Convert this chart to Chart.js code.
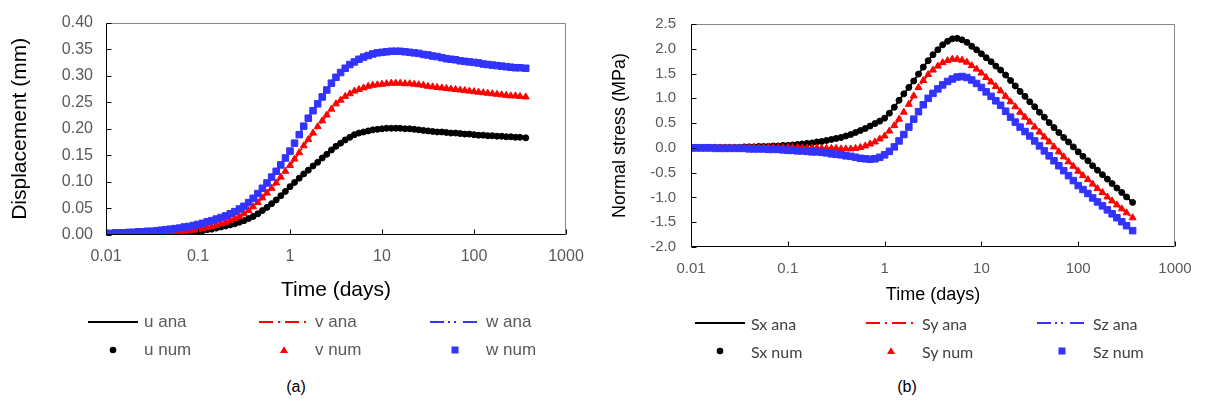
<!DOCTYPE html>
<html>
<head>
<meta charset="utf-8">
<script src="https://cdn.jsdelivr.net/npm/chart.js@4.4.1/dist/chart.umd.min.js"></script>
<style>
  html, body { margin: 0; padding: 0; background: #fff; }
  body { width: 1207px; height: 403px; position: relative; overflow: hidden; font-family: "Liberation Sans", Arial, sans-serif; }
  canvas { position: absolute; top: 0; }
  #dispChart { left: 0; }
  #stressChart { left: 600px; }
  .legend { position: absolute; display: grid; grid-template-columns: repeat(3, 171px); grid-auto-rows: 28px; }
  .legend .item { display: flex; align-items: center; white-space: nowrap; }
  .legend svg { width: 50px; height: 12px; margin-right: 6px; flex: none; }
  #dispLegend { left: 88px; top: 308px; font-size: 17px; color: #595959; }
  #stressLegend { left: 695px; top: 309px; font-size: 16px; color: #404040; font-family: Lato, "Liberation Sans", sans-serif; }
  .caption { position: absolute; top: 378px; font-size: 16px; color: #000; transform: translateX(-50%); }
</style>
</head>
<body>
<canvas id="dispChart" width="600" height="310"></canvas>
<canvas id="stressChart" width="607" height="310"></canvas>
<div id="dispLegend" class="legend"></div>
<div id="stressLegend" class="legend"></div>
<div class="caption" style="left:296px">(a)</div>
<div class="caption" style="left:907px">(b)</div>

<script>
// ---------------- Data ----------------
const times = [
  0.01, 0.0112, 0.0126, 0.0141, 0.0158, 0.0178, 0.02, 0.0224, 0.0251, 0.0282,
  0.0316, 0.0355, 0.0398, 0.0447, 0.0501, 0.0562, 0.0631, 0.0708, 0.0794, 0.0891,
  0.1, 0.112, 0.126, 0.141, 0.158, 0.178, 0.2, 0.224, 0.251, 0.282,
  0.316, 0.355, 0.398, 0.447, 0.501, 0.562, 0.631, 0.708, 0.794, 0.891,
  1, 1.12, 1.26, 1.41, 1.58, 1.78, 2, 2.24, 2.51, 2.82,
  3.16, 3.55, 3.98, 4.47, 5.01, 5.62, 6.31, 7.08, 7.94, 8.91,
  10, 11.2, 12.6, 14.1, 15.8, 17.8, 20, 22.4, 25.1, 28.2,
  31.6, 35.5, 39.8, 44.7, 50.1, 56.2, 63.1, 70.8, 79.4, 89.1,
  100, 112, 126, 141, 158, 178, 200, 224, 251, 282,
  316, 365
];

// displacements (mm)
const uDisp = [
  0.000, 0.000, 0.001, 0.001, 0.001, 0.001, 0.001, 0.001, 0.002, 0.002,
  0.002, 0.002, 0.002, 0.003, 0.003, 0.004, 0.004, 0.005, 0.005, 0.006,
  0.007, 0.008, 0.010, 0.011, 0.013, 0.015, 0.017, 0.019, 0.021, 0.024,
  0.027, 0.031, 0.035, 0.040, 0.046, 0.052, 0.059, 0.066, 0.074, 0.082,
  0.091, 0.099, 0.107, 0.115, 0.122, 0.130, 0.137, 0.145, 0.152, 0.160,
  0.167, 0.173, 0.179, 0.184, 0.189, 0.192, 0.194, 0.196, 0.198, 0.199,
  0.200, 0.201, 0.201, 0.201, 0.201, 0.200, 0.200, 0.199, 0.198, 0.197,
  0.196, 0.195, 0.194, 0.194, 0.193, 0.192, 0.192, 0.191, 0.190, 0.190,
  0.189, 0.188, 0.188, 0.187, 0.187, 0.186, 0.186, 0.185, 0.185, 0.184,
  0.184, 0.183
];
const vDisp = [
  0.001, 0.001, 0.001, 0.002, 0.002, 0.002, 0.002, 0.002, 0.003, 0.003,
  0.003, 0.003, 0.004, 0.004, 0.005, 0.005, 0.006, 0.007, 0.008, 0.009,
  0.010, 0.012, 0.014, 0.016, 0.018, 0.021, 0.024, 0.027, 0.031, 0.035,
  0.040, 0.046, 0.053, 0.061, 0.070, 0.079, 0.088, 0.098, 0.109, 0.120,
  0.131, 0.143, 0.155, 0.168, 0.180, 0.192, 0.204, 0.215, 0.226, 0.237,
  0.247, 0.254, 0.261, 0.266, 0.271, 0.274, 0.277, 0.280, 0.282, 0.283,
  0.284, 0.285, 0.286, 0.286, 0.286, 0.285, 0.285, 0.284, 0.283, 0.282,
  0.280, 0.279, 0.278, 0.277, 0.276, 0.275, 0.274, 0.273, 0.272, 0.271,
  0.270, 0.269, 0.268, 0.267, 0.266, 0.265, 0.264, 0.263, 0.262, 0.262,
  0.261, 0.260
];
const wDisp = [
  0.003, 0.003, 0.004, 0.004, 0.004, 0.005, 0.005, 0.006, 0.006, 0.007,
  0.007, 0.008, 0.009, 0.010, 0.011, 0.012, 0.013, 0.015, 0.016, 0.018,
  0.020, 0.022, 0.025, 0.027, 0.030, 0.033, 0.036, 0.040, 0.044, 0.049,
  0.054, 0.061, 0.069, 0.078, 0.088, 0.098, 0.109, 0.120, 0.132, 0.145,
  0.158, 0.173, 0.189, 0.205, 0.220, 0.234, 0.247, 0.260, 0.273, 0.286,
  0.297, 0.306, 0.314, 0.321, 0.326, 0.331, 0.335, 0.338, 0.341, 0.343,
  0.344, 0.345, 0.346, 0.346, 0.346, 0.345, 0.344, 0.343, 0.342, 0.340,
  0.339, 0.337, 0.336, 0.334, 0.332, 0.331, 0.330, 0.328, 0.327, 0.326,
  0.325, 0.324, 0.322, 0.321, 0.320, 0.319, 0.318, 0.317, 0.316, 0.315,
  0.315, 0.314
];

// normal stresses (MPa)
const sxStress = [
  0.00, 0.00, 0.00, 0.00, 0.00, 0.01, 0.01, 0.01, 0.01, 0.01,
  0.01, 0.02, 0.02, 0.02, 0.03, 0.03, 0.03, 0.04, 0.04, 0.05,
  0.05, 0.06, 0.07, 0.08, 0.09, 0.10, 0.12, 0.13, 0.15, 0.17,
  0.19, 0.21, 0.24, 0.27, 0.31, 0.35, 0.39, 0.44, 0.49, 0.54,
  0.60, 0.70, 0.82, 0.96, 1.09, 1.22, 1.35, 1.49, 1.63, 1.76,
  1.88, 1.98, 2.08, 2.15, 2.20, 2.21, 2.18, 2.13, 2.05, 1.98,
  1.90, 1.82, 1.74, 1.65, 1.57, 1.47, 1.36, 1.25, 1.14, 1.04,
  0.93, 0.83, 0.72, 0.62, 0.51, 0.41, 0.31, 0.21, 0.12, 0.02,
  -0.08, -0.17, -0.26, -0.36, -0.45, -0.54, -0.63, -0.72, -0.81, -0.90,
  -0.99, -1.10
];
const syStress = [
  0.00, 0.00, 0.00, 0.00, 0.00, 0.00, 0.00, 0.00, 0.00, 0.00,
  0.00, 0.00, 0.01, 0.01, 0.01, 0.01, 0.01, 0.01, 0.01, 0.01,
  0.01, 0.01, 0.01, 0.00, 0.00, 0.00, 0.00, -0.01, -0.01, -0.01,
  -0.01, -0.02, -0.02, -0.02, -0.01, 0.01, 0.04, 0.08, 0.12, 0.18,
  0.24, 0.34, 0.45, 0.58, 0.72, 0.88, 1.05, 1.22, 1.36, 1.48,
  1.57, 1.65, 1.72, 1.76, 1.79, 1.79, 1.77, 1.73, 1.66, 1.59,
  1.51, 1.42, 1.33, 1.24, 1.15, 1.04, 0.93, 0.83, 0.72, 0.62,
  0.52, 0.42, 0.32, 0.22, 0.12, 0.02, -0.08, -0.18, -0.28, -0.37,
  -0.47, -0.56, -0.64, -0.73, -0.82, -0.90, -0.99, -1.07, -1.15, -1.23,
  -1.31, -1.41
];
const szStress = [
  0.00, 0.00, 0.00, 0.00, 0.00, -0.01, -0.01, -0.01, -0.01, -0.01,
  -0.01, -0.01, -0.02, -0.02, -0.02, -0.02, -0.03, -0.03, -0.03, -0.04,
  -0.05, -0.05, -0.06, -0.06, -0.07, -0.08, -0.08, -0.09, -0.10, -0.12,
  -0.13, -0.14, -0.16, -0.17, -0.19, -0.21, -0.22, -0.23, -0.22, -0.19,
  -0.14, -0.07, 0.02, 0.14, 0.27, 0.42, 0.58, 0.73, 0.87, 1.00,
  1.10, 1.19, 1.27, 1.34, 1.39, 1.43, 1.44, 1.42, 1.37, 1.30,
  1.22, 1.13, 1.04, 0.95, 0.86, 0.74, 0.62, 0.52, 0.42, 0.33,
  0.24, 0.14, 0.04, -0.06, -0.16, -0.26, -0.36, -0.46, -0.56, -0.66,
  -0.76, -0.84, -0.92, -1.01, -1.09, -1.17, -1.25, -1.33, -1.41, -1.49,
  -1.57, -1.67
];

// axis ticks
const xTickValues = [0.01, 0.1, 1, 10, 100, 1000];
const xTickLabels = ["0.01", "0.1", "1", "10", "100", "1000"];
const dispTickValues = [0, 0.05, 0.1, 0.15, 0.2, 0.25, 0.3, 0.35, 0.4];
const dispTickLabels = ["0.00", "0.05", "0.10", "0.15", "0.20", "0.25", "0.30", "0.35", "0.40"];
const stressTickValues = [-2, -1.5, -1, -0.5, 0, 0.5, 1, 1.5, 2, 2.5];
const stressTickLabels = ["-2.0", "-1.5", "-1.0", "-0.5", "0.0", "0.5", "1.0", "1.5", "2.0", "2.5"];

// ---------------- Styles ----------------
const BLACK = "#000000";
const RED = "#ff0000";
const BLUE = "#3333ff";
const DASH_DOT = [14, 5, 2, 5];
const DASH_DOT_DOT = [14, 4, 2, 4, 2, 7];
const FONT = "'Liberation Sans', Arial, sans-serif";

// ---------------- Helpers ----------------
function toPoints(values) {
  return times.map((t, i) => ({ x: t, y: values[i] }));
}

function lineSet(label, values, color, dash) {
  return {
    label, data: toPoints(values), showLine: true,
    borderColor: color, backgroundColor: color, borderWidth: 2, borderDash: dash,
    pointRadius: 0, fill: false, order: 10,
    legendKind: "line"
  };
}

function markerSet(label, values, color, style, radius, order) {
  return {
    label, data: toPoints(values), showLine: false,
    pointStyle: style, pointRadius: radius,
    pointBackgroundColor: color, pointBorderColor: color, pointBorderWidth: 1,
    borderColor: color, backgroundColor: color, order,
    legendKind: style
  };
}

// axes: black left/bottom, grey top/right, short ticks pointing inwards
const framePlugin = {
  id: "frame",
  afterDraw(chart) {
    const { ctx, chartArea: a, scales: { x, y } } = chart;
    const L = Math.round(a.left) + 0.5, R = Math.round(a.right) - 0.5;
    const T = Math.round(a.top) + 0.5, B = Math.round(a.bottom) - 0.5;
    ctx.save();
    ctx.lineWidth = 1;
    ctx.strokeStyle = "#868686";
    ctx.beginPath();
    ctx.moveTo(L, T); ctx.lineTo(R, T); ctx.lineTo(R, B);
    ctx.stroke();
    ctx.strokeStyle = "#000";
    ctx.beginPath();
    ctx.moveTo(L, T); ctx.lineTo(L, B); ctx.lineTo(R, B);
    x.ticks.forEach(t => {
      const px = Math.round(x.getPixelForValue(t.value)) + 0.5;
      ctx.moveTo(px, B); ctx.lineTo(px, B - 5);
    });
    y.ticks.forEach(t => {
      const py = Math.round(y.getPixelForValue(t.value)) + 0.5;
      ctx.moveTo(L, py); ctx.lineTo(L + 5, py);
    });
    ctx.stroke();
    ctx.restore();
  }
};

function makeOptions(cfg) {
  return {
    responsive: false,
    animation: false,
    devicePixelRatio: 1,
    layout: { padding: { left: 0, top: cfg.top, right: cfg.right, bottom: 0 } },
    plugins: { legend: { display: false }, tooltip: { enabled: false } },
    scales: {
      x: {
        type: "logarithmic", min: 0.01, max: 1000,
        afterBuildTicks: s => { s.ticks = xTickValues.map(v => ({ value: v })); },
        afterFit: s => { s.height = cfg.xHeight; },
        grid: { display: false, drawTicks: false },
        border: { display: false },
        ticks: {
          autoSkip: false, maxRotation: 0, padding: cfg.xPad, color: "#595959",
          font: { family: FONT, size: cfg.tickSize },
          callback: (v, i) => xTickLabels[i]
        },
        title: {
          display: true, text: "Time (days)", color: "#000",
          font: { family: FONT, size: cfg.titleSize },
          padding: { top: 0, bottom: cfg.xTitlePad }
        }
      },
      y: {
        min: cfg.yTicks[0], max: cfg.yTicks[cfg.yTicks.length - 1],
        afterBuildTicks: s => { s.ticks = cfg.yTicks.map(v => ({ value: v })); },
        afterFit: s => { s.width = cfg.yWidth; },
        grid: { display: false, drawTicks: false },
        border: { display: false },
        ticks: {
          padding: cfg.yPad, color: "#595959",
          font: { family: FONT, size: cfg.tickSize },
          callback: (v, i) => cfg.yLabels[i]
        },
        title: {
          display: true, text: cfg.yTitle, color: "#000",
          font: { family: FONT, size: cfg.titleSize },
          padding: { top: cfg.yTitlePad, bottom: 0 }
        }
      }
    }
  };
}

function legendSample(ds) {
  const c = ds.borderColor;
  let shape;
  if (ds.legendKind === "line") {
    const dash = ds.borderDash.length ? ` stroke-dasharray="${ds.borderDash.join(" ")}"` : "";
    shape = `<line x1="0" y1="6" x2="50" y2="6" stroke="${c}" stroke-width="2"${dash}/>`;
  } else if (ds.legendKind === "circle") {
    shape = `<circle cx="25" cy="6" r="3.3" fill="${c}"/>`;
  } else if (ds.legendKind === "triangle") {
    shape = `<polygon points="25,2.2 29,9 21,9" fill="${c}"/>`;
  } else {
    shape = `<rect x="21.5" y="2.5" width="7" height="7" fill="${c}"/>`;
  }
  return `<svg viewBox="0 0 50 12">${shape}</svg>`;
}

function buildLegend(chart, id) {
  const box = document.getElementById(id);
  chart.data.datasets.forEach(ds => {
    const item = document.createElement("div");
    item.className = "item";
    item.innerHTML = legendSample(ds) + `<span>${ds.label}</span>`;
    box.appendChild(item);
  });
}

// ---------------- Charts ----------------
const dispChart = new Chart(document.getElementById("dispChart"), {
  type: "scatter",
  data: {
    datasets: [
      lineSet("u ana", uDisp, BLACK, []),
      lineSet("v ana", vDisp, RED, DASH_DOT),
      lineSet("w ana", wDisp, BLUE, DASH_DOT_DOT),
      markerSet("u num", uDisp, BLACK, "circle", 3, 3),
      markerSet("v num", vDisp, RED, "triangle", 4, 2),
      markerSet("w num", wDisp, BLUE, "rect", 4.6, 1)
    ]
  },
  options: makeOptions({
    top: 16, right: 34, yWidth: 106, xHeight: 75,
    xPad: 12, yPad: 13, xTitlePad: 7, yTitlePad: 8,
    tickSize: 16, titleSize: 21,
    yTicks: dispTickValues, yLabels: dispTickLabels,
    yTitle: "Displacement (mm)"
  }),
  plugins: [framePlugin]
});

const stressChart = new Chart(document.getElementById("stressChart"), {
  type: "scatter",
  data: {
    datasets: [
      lineSet("Sx ana", sxStress, BLACK, []),
      lineSet("Sy ana", syStress, RED, DASH_DOT),
      lineSet("Sz ana", szStress, BLUE, DASH_DOT_DOT),
      markerSet("Sx num", sxStress, BLACK, "circle", 3, 3),
      markerSet("Sy num", syStress, RED, "triangle", 4, 2),
      markerSet("Sz num", szStress, BLUE, "rect", 4.6, 1)
    ]
  },
  options: makeOptions({
    top: 16, right: 32, yWidth: 91, xHeight: 63,
    xPad: 13, yPad: 15, xTitlePad: 4, yTitlePad: 9,
    tickSize: 15, titleSize: 18,
    yTicks: stressTickValues, yLabels: stressTickLabels,
    yTitle: "Normal stress (MPa)"
  }),
  plugins: [framePlugin]
});

buildLegend(dispChart, "dispLegend");
buildLegend(stressChart, "stressLegend");
</script>
</body>
</html>
